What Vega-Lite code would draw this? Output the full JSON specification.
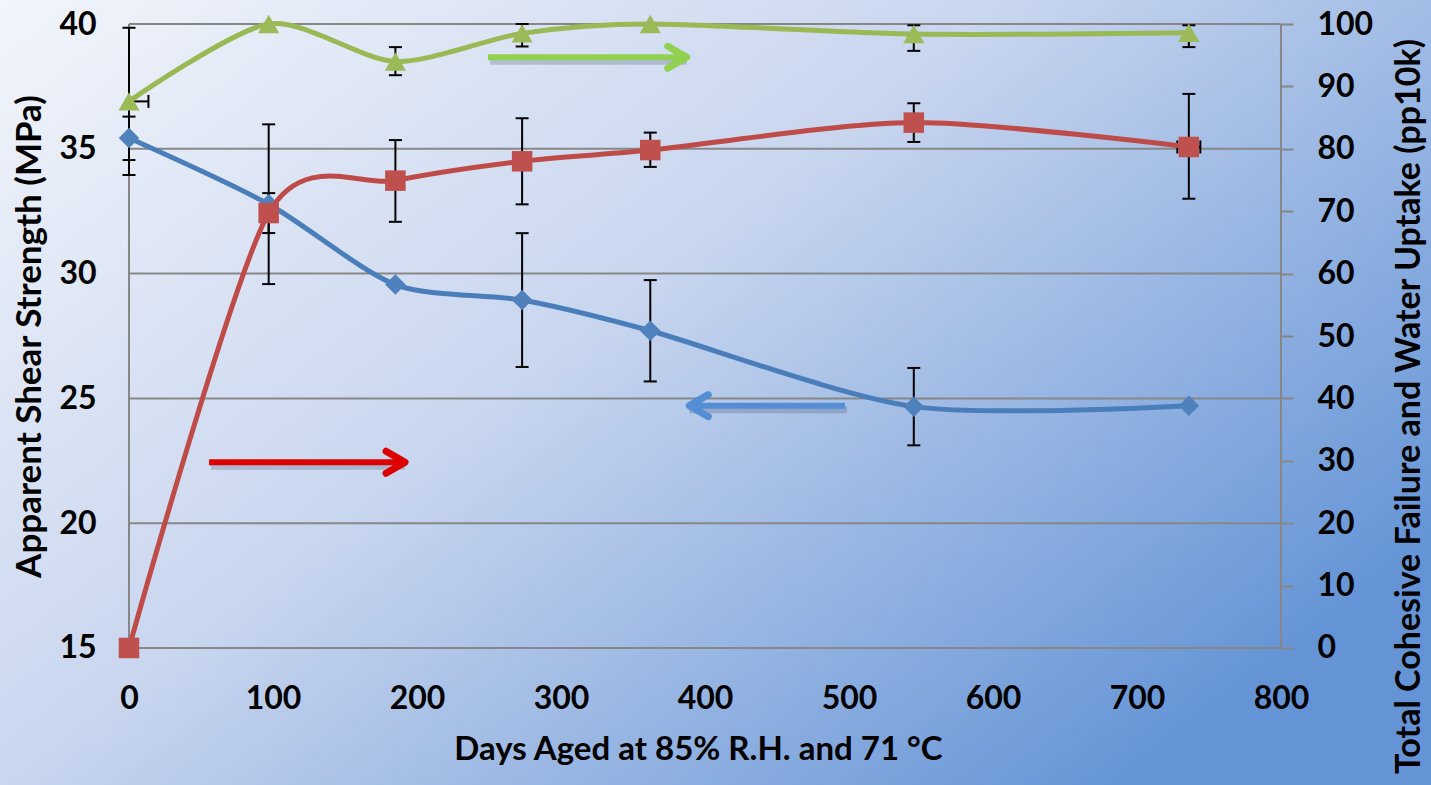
{
  "$schema": "https://vega.github.io/schema/vega-lite/v6.json",
  "width": 1431,
  "height": 785,
  "autosize": {"type": "none"},
  "padding": 0,
  "background": "#b5c8ea",
  "config": {
    "view": {
      "stroke": null,
      "fill": {
        "gradient": "linear",
        "x1": 0, "y1": 0, "x2": 1, "y2": 0.7,
        "stops": [
          {"offset": 0, "color": "#f2f5fb"},
          {"offset": 0.47, "color": "#c9d6ef"},
          {"offset": 1, "color": "#6494d6"}
        ]
      }
    },
    "font": "Lato",
    "axis": {
      "labelFont": "Lato", "labelFontSize": 32, "labelFontWeight": "bold", "labelColor": "black",
      "titleFont": "Lato", "titleFontSize": 35, "titleFontWeight": "bold", "titleColor": "black",
      "grid": false, "domain": false, "labelFlush": false
    }
  },
  "datasets": {
    "grid": [{"g": 15}, {"g": 20}, {"g": 25}, {"g": 30}, {"g": 35}, {"g": 40}],
    "frame": [{"fx": 0}, {"fx": 800}],
    "shear": [
      {"day": 0, "value": 35.43, "lo": 34.55, "hi": 36.29},
      {"day": 97, "value": 32.78, "lo": 29.58, "hi": 35.98},
      {"day": 185, "value": 29.56, "lo": null, "hi": null},
      {"day": 273, "value": 28.94, "lo": 26.26, "hi": 31.62},
      {"day": 362, "value": 27.71, "lo": 25.68, "hi": 29.74},
      {"day": 545, "value": 24.67, "lo": 23.12, "hi": 26.22},
      {"day": 736, "value": 24.71, "lo": null, "hi": null}
    ],
    "cohesive": [
      {"day": 0, "value": 0, "lo": null, "hi": null, "dlo": null, "dhi": null},
      {"day": 97, "value": 69.7, "lo": 66.5, "hi": 72.9, "dlo": null, "dhi": null},
      {"day": 185, "value": 74.9, "lo": 68.3, "hi": 81.4, "dlo": null, "dhi": null},
      {"day": 273, "value": 78.0, "lo": 71.1, "hi": 84.9, "dlo": null, "dhi": null},
      {"day": 362, "value": 79.8, "lo": 77.1, "hi": 82.6, "dlo": null, "dhi": null},
      {"day": 545, "value": 84.2, "lo": 81.1, "hi": 87.3, "dlo": null, "dhi": null},
      {"day": 736, "value": 80.3, "lo": 72.0, "hi": 88.8, "dlo": 728, "dhi": 744}
    ],
    "water": [
      {"day": 0, "value": 87.6, "lo": 75.8, "hi": 99.4, "dlo": 0, "dhi": 13.5},
      {"day": 97, "value": 100, "lo": null, "hi": null, "dlo": null, "dhi": null},
      {"day": 185, "value": 94.0, "lo": 91.8, "hi": 96.3, "dlo": null, "dhi": null},
      {"day": 273, "value": 98.5, "lo": 96.4, "hi": 100, "dlo": null, "dhi": null},
      {"day": 362, "value": 100, "lo": null, "hi": null, "dlo": null, "dhi": null},
      {"day": 545, "value": 98.4, "lo": 95.7, "hi": 99.8, "dlo": null, "dhi": null},
      {"day": 736, "value": 98.6, "lo": 96.3, "hi": 99.8, "dlo": null, "dhi": null}
    ],
    "arrows": [
      {"series": "shear", "x_from": 497.2, "x_to": 389.1, "level": 24.71},
      {"series": "cohesive", "x_from": 55.6, "x_to": 191.7, "level": 29.76},
      {"series": "water", "x_from": 249.3, "x_to": 387.3, "level": 94.66}
    ]
  },
  "layer": [
    {
      "data": {"name": "grid"},
      "mark": {"type": "rule", "color": "#878787", "strokeWidth": 2},
      "encoding": {
        "y": {"field": "g", "type": "quantitative", "scale": {"domain": [9.511, 40.962], "nice": false, "zero": false}, "axis": null},
        "x": {"datum": 0, "type": "quantitative", "scale": {"domain": [-89.58, 904.17], "nice": false, "zero": false}},
        "x2": {"datum": 800}
      }
    },
    {
      "data": {"name": "frame"},
      "mark": {"type": "rule", "color": "#878787", "strokeWidth": 2},
      "encoding": {
        "x": {"field": "fx", "type": "quantitative", "scale": {"domain": [-89.58, 904.17], "nice": false, "zero": false}},
        "y": {"datum": 15, "type": "quantitative", "scale": {"domain": [9.511, 40.962], "nice": false, "zero": false}, "axis": null},
        "y2": {"datum": 40}
      }
    },
    {
      "data": {"name": "shear"},
      "transform": [{"filter": "datum.lo != null"}],
      "mark": {"type": "rule", "color": "black", "strokeWidth": 2},
      "encoding": {
        "x": {"field": "day", "type": "quantitative", "scale": {"domain": [-89.58, 904.17], "nice": false, "zero": false}},
        "y": {"field": "lo", "type": "quantitative", "scale": {"domain": [9.511, 40.962], "nice": false, "zero": false}, "axis": null},
        "y2": {"field": "hi"}
      }
    },
    {
      "data": {"name": "shear"},
      "transform": [{"filter": "datum.lo != null"}, {"fold": ["lo", "hi"], "as": ["end", "ev"]}],
      "mark": {"type": "point", "shape": "M -1 0 L 1 0", "filled": false, "size": 169, "strokeWidth": 2, "color": "black", "opacity": 1},
      "encoding": {
        "x": {"field": "day", "type": "quantitative", "scale": {"domain": [-89.58, 904.17], "nice": false, "zero": false}},
        "y": {"field": "ev", "type": "quantitative", "scale": {"domain": [9.511, 40.962], "nice": false, "zero": false}, "axis": null}
      }
    },
    {
      "data": {"name": "cohesive"},
      "transform": [{"filter": "datum.lo != null"}],
      "mark": {"type": "rule", "color": "black", "strokeWidth": 2},
      "encoding": {
        "x": {"field": "day", "type": "quantitative", "scale": {"domain": [-89.58, 904.17], "nice": false, "zero": false}},
        "y": {"field": "lo", "type": "quantitative", "scale": {"domain": [-21.96, 103.85], "nice": false, "zero": false}, "axis": null},
        "y2": {"field": "hi"}
      }
    },
    {
      "data": {"name": "cohesive"},
      "transform": [{"filter": "datum.lo != null"}, {"fold": ["lo", "hi"], "as": ["end", "ev"]}],
      "mark": {"type": "point", "shape": "M -1 0 L 1 0", "filled": false, "size": 169, "strokeWidth": 2, "color": "black", "opacity": 1},
      "encoding": {
        "x": {"field": "day", "type": "quantitative", "scale": {"domain": [-89.58, 904.17], "nice": false, "zero": false}},
        "y": {"field": "ev", "type": "quantitative", "scale": {"domain": [-21.96, 103.85], "nice": false, "zero": false}, "axis": null}
      }
    },
    {
      "data": {"name": "water"},
      "transform": [{"filter": "datum.lo != null"}],
      "mark": {"type": "rule", "color": "black", "strokeWidth": 2},
      "encoding": {
        "x": {"field": "day", "type": "quantitative", "scale": {"domain": [-89.58, 904.17], "nice": false, "zero": false}},
        "y": {"field": "lo", "type": "quantitative", "scale": {"domain": [-21.96, 103.85], "nice": false, "zero": false}, "axis": null},
        "y2": {"field": "hi"}
      }
    },
    {
      "data": {"name": "water"},
      "transform": [{"filter": "datum.lo != null"}, {"fold": ["lo", "hi"], "as": ["end", "ev"]}],
      "mark": {"type": "point", "shape": "M -1 0 L 1 0", "filled": false, "size": 169, "strokeWidth": 2, "color": "black", "opacity": 1},
      "encoding": {
        "x": {"field": "day", "type": "quantitative", "scale": {"domain": [-89.58, 904.17], "nice": false, "zero": false}},
        "y": {"field": "ev", "type": "quantitative", "scale": {"domain": [-21.96, 103.85], "nice": false, "zero": false}, "axis": null}
      }
    },
    {
      "data": {"name": "cohesive"},
      "transform": [{"filter": "datum.dlo != null"}],
      "mark": {"type": "rule", "color": "black", "strokeWidth": 2},
      "encoding": {
        "x": {"field": "dlo", "type": "quantitative", "scale": {"domain": [-89.58, 904.17], "nice": false, "zero": false}},
        "x2": {"field": "dhi"},
        "y": {"field": "value", "type": "quantitative", "scale": {"domain": [-21.96, 103.85], "nice": false, "zero": false}, "axis": null}
      }
    },
    {
      "data": {"name": "cohesive"},
      "transform": [{"filter": "datum.dlo != null"}, {"fold": ["dlo", "dhi"], "as": ["end", "ev"]}],
      "mark": {"type": "point", "shape": "M 0 -1 L 0 1", "filled": false, "size": 169, "strokeWidth": 2, "color": "black", "opacity": 1},
      "encoding": {
        "x": {"field": "ev", "type": "quantitative", "scale": {"domain": [-89.58, 904.17], "nice": false, "zero": false}},
        "y": {"field": "value", "type": "quantitative", "scale": {"domain": [-21.96, 103.85], "nice": false, "zero": false}, "axis": null}
      }
    },
    {
      "data": {"name": "water"},
      "transform": [{"filter": "datum.dlo != null"}],
      "mark": {"type": "rule", "color": "black", "strokeWidth": 2},
      "encoding": {
        "x": {"field": "dlo", "type": "quantitative", "scale": {"domain": [-89.58, 904.17], "nice": false, "zero": false}},
        "x2": {"field": "dhi"},
        "y": {"field": "value", "type": "quantitative", "scale": {"domain": [-21.96, 103.85], "nice": false, "zero": false}, "axis": null}
      }
    },
    {
      "data": {"name": "water"},
      "transform": [{"filter": "datum.dlo != null"}, {"fold": ["dlo", "dhi"], "as": ["end", "ev"]}],
      "mark": {"type": "point", "shape": "M 0 -1 L 0 1", "filled": false, "size": 169, "strokeWidth": 2, "color": "black", "opacity": 1},
      "encoding": {
        "x": {"field": "ev", "type": "quantitative", "scale": {"domain": [-89.58, 904.17], "nice": false, "zero": false}},
        "y": {"field": "value", "type": "quantitative", "scale": {"domain": [-21.96, 103.85], "nice": false, "zero": false}, "axis": null}
      }
    },
    {
      "data": {"name": "shear"},
      "mark": {"type": "line", "interpolate": "cardinal", "tension": 0.2, "strokeWidth": 5, "color": "#4a7ebb"},
      "encoding": {
        "x": {"field": "day", "type": "quantitative",
          "scale": {"domain": [-89.58, 904.17], "nice": false, "zero": false},
          "axis": {"title": "Days Aged at 85% R.H. and 71 °C", "orient": "bottom", "offset": -137,
            "values": [0, 100, 200, 300, 400, 500, 600, 700, 800], "ticks": false,
            "labelPadding": 35, "titleFontSize": 33, "titleX": 698, "titleY": 111, "titleAngle": 0, "titleBaseline": "alphabetic", "titleAlign": "center"}},
        "y": {"field": "value", "type": "quantitative",
          "scale": {"domain": [9.511, 40.962], "nice": false, "zero": false},
          "axis": {"title": "Apparent Shear Strength (MPa)", "orient": "left", "offset": -129,
            "values": [15, 20, 25, 30, 35, 40], "ticks": false, "labelPadding": 33,
            "titleAngle": 270, "titleX": -89, "titleY": 336, "titleBaseline": "alphabetic", "titleAlign": "center"}}
      }
    },
    {
      "data": {"name": "shear"},
      "mark": {"type": "point", "shape": "diamond", "filled": true, "size": 420, "color": "#4f81bd", "opacity": 1},
      "encoding": {
        "x": {"field": "day", "type": "quantitative", "scale": {"domain": [-89.58, 904.17], "nice": false, "zero": false}},
        "y": {"field": "value", "type": "quantitative", "scale": {"domain": [9.511, 40.962], "nice": false, "zero": false}, "axis": null}
      }
    },
    {
      "data": {"name": "cohesive"},
      "mark": {"type": "line", "interpolate": "cardinal", "tension": 0.2, "strokeWidth": 5, "color": "#be4b48"},
      "encoding": {
        "x": {"field": "day", "type": "quantitative", "scale": {"domain": [-89.58, 904.17], "nice": false, "zero": false}},
        "y": {"field": "value", "type": "quantitative",
          "scale": {"domain": [-21.96, 103.85], "nice": false, "zero": false},
          "axis": {"title": "Total Cohesive Failure and Water Uptake (pp10k)", "orient": "right", "offset": -150,
            "values": [0, 10, 20, 30, 40, 50, 60, 70, 80, 90, 100], "ticks": true, "tickSize": 12, "tickWidth": 2,
            "tickColor": "#878787", "labelPadding": 24, "titleFontSize": 34,
            "titleAngle": 270, "titleX": 138, "titleY": 406, "titleBaseline": "alphabetic", "titleAlign": "center"}}
      }
    },
    {
      "data": {"name": "cohesive"},
      "mark": {"type": "point", "shape": "square", "filled": true, "size": 420, "color": "#c0504d", "opacity": 1},
      "encoding": {
        "x": {"field": "day", "type": "quantitative", "scale": {"domain": [-89.58, 904.17], "nice": false, "zero": false}},
        "y": {"field": "value", "type": "quantitative", "scale": {"domain": [-21.96, 103.85], "nice": false, "zero": false}, "axis": null}
      }
    },
    {
      "data": {"name": "water"},
      "mark": {"type": "line", "interpolate": "cardinal", "tension": 0.2, "strokeWidth": 5, "color": "#98b954"},
      "encoding": {
        "x": {"field": "day", "type": "quantitative", "scale": {"domain": [-89.58, 904.17], "nice": false, "zero": false}},
        "y": {"field": "value", "type": "quantitative", "scale": {"domain": [-21.96, 103.85], "nice": false, "zero": false}, "axis": null}
      }
    },
    {
      "data": {"name": "water"},
      "mark": {"type": "point", "shape": "triangle-up", "filled": true, "size": 450, "color": "#9bbb59", "opacity": 1},
      "encoding": {
        "x": {"field": "day", "type": "quantitative", "scale": {"domain": [-89.58, 904.17], "nice": false, "zero": false}},
        "y": {"field": "value", "type": "quantitative", "scale": {"domain": [-21.96, 103.85], "nice": false, "zero": false}, "axis": null}
      }
    },
    {
      "data": {"name": "arrows"},
      "transform": [{"filter": "datum.series == 'shear'"}],
      "mark": {"type": "rule", "color": "#3a4a66", "opacity": 0.25, "strokeWidth": 7, "xOffset": 2, "yOffset": 4},
      "encoding": {
        "x": {"field": "x_from", "type": "quantitative", "scale": {"domain": [-89.58, 904.17], "nice": false, "zero": false}},
        "x2": {"field": "x_to"},
        "y": {"field": "level", "type": "quantitative", "scale": {"domain": [9.511, 40.962], "nice": false, "zero": false}, "axis": null}
      }
    },
    {
      "data": {"name": "arrows"},
      "transform": [{"filter": "datum.series != 'shear'"}],
      "mark": {"type": "rule", "color": "#3a4a66", "opacity": 0.25, "strokeWidth": 7, "xOffset": 2, "yOffset": 4},
      "encoding": {
        "x": {"field": "x_from", "type": "quantitative", "scale": {"domain": [-89.58, 904.17], "nice": false, "zero": false}},
        "x2": {"field": "x_to"},
        "y": {"field": "level", "type": "quantitative", "scale": {"domain": [-21.96, 103.85], "nice": false, "zero": false}, "axis": null}
      }
    },
    {
      "data": {"name": "arrows"},
      "transform": [{"filter": "datum.series == 'shear'"}],
      "mark": {"type": "rule", "strokeWidth": 6, "color": "#558ed5"},
      "encoding": {
        "x": {"field": "x_from", "type": "quantitative", "scale": {"domain": [-89.58, 904.17], "nice": false, "zero": false}},
        "x2": {"field": "x_to"},
        "y": {"field": "level", "type": "quantitative", "scale": {"domain": [9.511, 40.962], "nice": false, "zero": false}, "axis": null}
      }
    },
    {
      "data": {"name": "arrows"},
      "transform": [{"filter": "datum.series == 'shear'"}],
      "mark": {"type": "point", "shape": "M 1.9 -1.1 L 0 0 L 1.9 1.1", "filled": false, "size": 400, "strokeWidth": 7, "strokeCap": "round", "strokeJoin": "round", "opacity": 1, "color": "#558ed5"},
      "encoding": {
        "x": {"field": "x_to", "type": "quantitative", "scale": {"domain": [-89.58, 904.17], "nice": false, "zero": false}},
        "y": {"field": "level", "type": "quantitative", "scale": {"domain": [9.511, 40.962], "nice": false, "zero": false}, "axis": null}
      }
    },
    {
      "data": {"name": "arrows"},
      "transform": [{"filter": "datum.series != 'shear'"}],
      "mark": {"type": "rule", "strokeWidth": 6},
      "encoding": {
        "x": {"field": "x_from", "type": "quantitative", "scale": {"domain": [-89.58, 904.17], "nice": false, "zero": false}},
        "x2": {"field": "x_to"},
        "y": {"field": "level", "type": "quantitative", "scale": {"domain": [-21.96, 103.85], "nice": false, "zero": false}, "axis": null},
        "color": {"field": "series", "type": "nominal", "scale": {"domain": ["cohesive", "water"], "range": ["#dd0000", "#92d050"]}, "legend": null}
      }
    },
    {
      "data": {"name": "arrows"},
      "transform": [{"filter": "datum.series != 'shear'"}],
      "mark": {"type": "point", "shape": "M -1.9 -1.1 L 0 0 L -1.9 1.1", "filled": false, "size": 400, "strokeWidth": 7, "strokeCap": "round", "strokeJoin": "round", "opacity": 1},
      "encoding": {
        "x": {"field": "x_to", "type": "quantitative", "scale": {"domain": [-89.58, 904.17], "nice": false, "zero": false}},
        "y": {"field": "level", "type": "quantitative", "scale": {"domain": [-21.96, 103.85], "nice": false, "zero": false}, "axis": null},
        "color": {"field": "series", "type": "nominal", "scale": {"domain": ["cohesive", "water"], "range": ["#dd0000", "#92d050"]}, "legend": null}
      }
    }
  ],
  "resolve": {"scale": {"y": "independent"}, "axis": {"y": "independent"}}
}
